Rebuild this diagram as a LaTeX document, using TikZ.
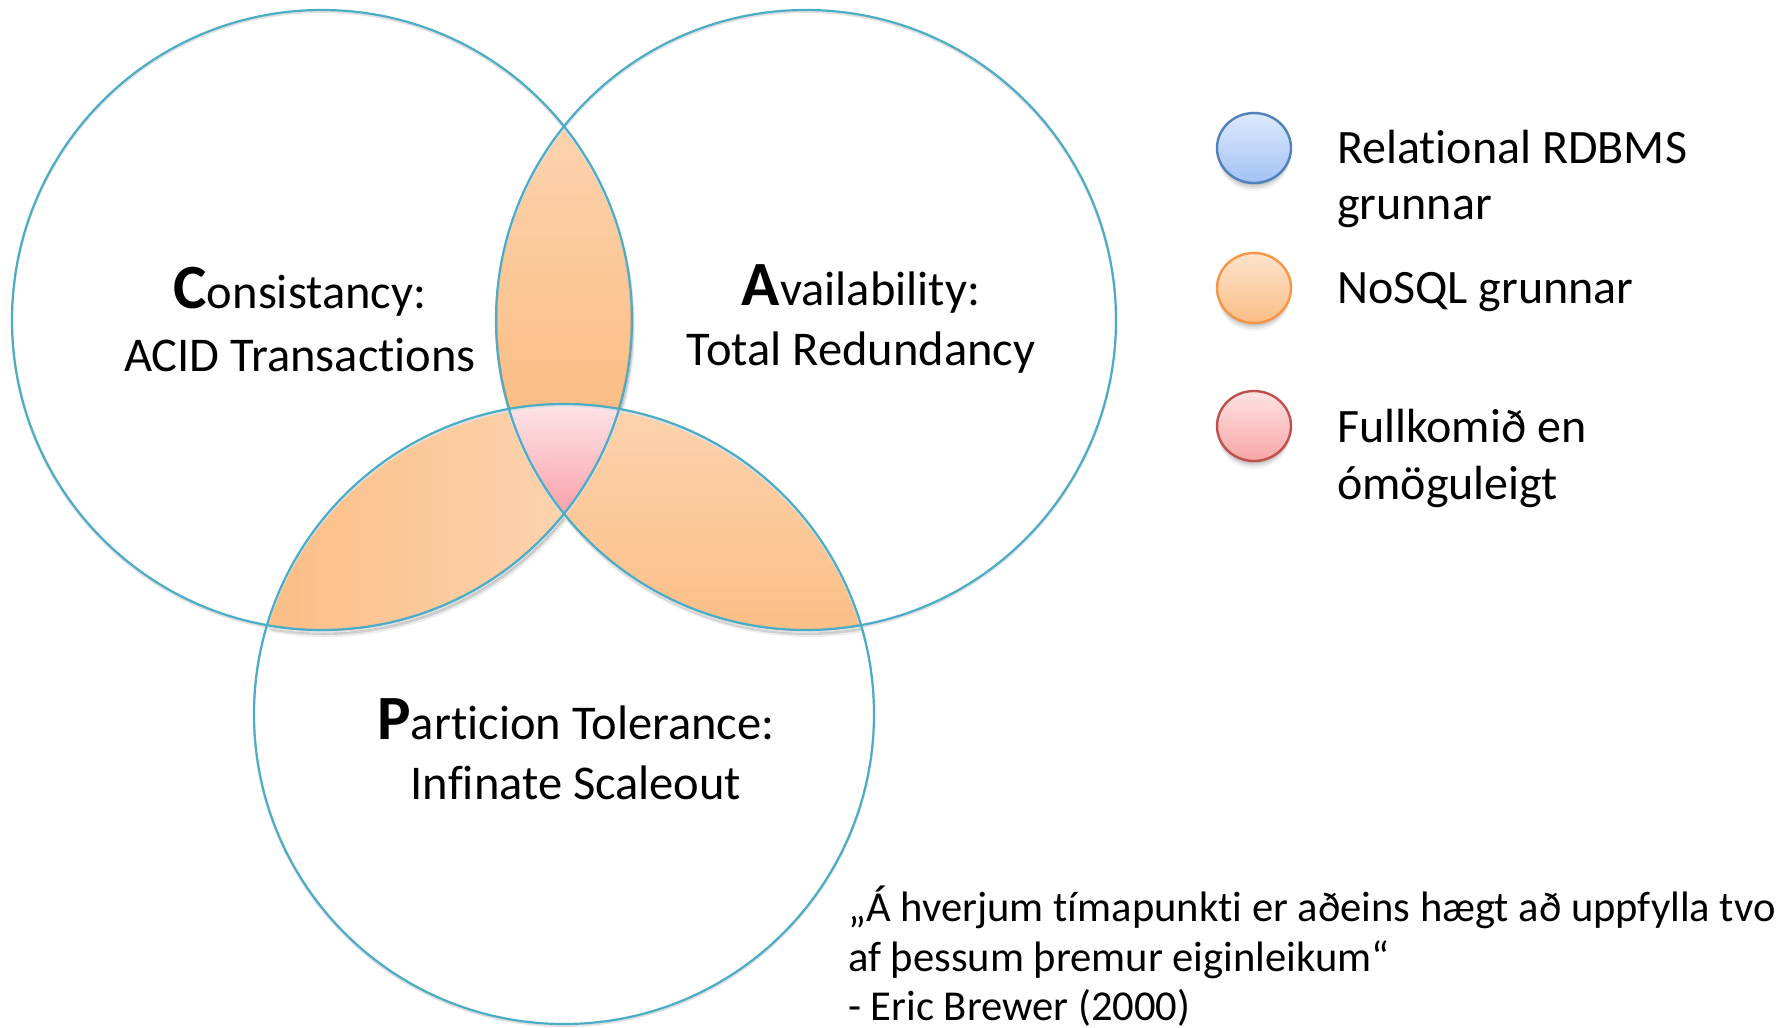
\documentclass[tikz,border=0pt]{standalone}
\usepackage{fontspec}
\setmainfont{Carlito}[Ligatures=NoCommon]
\definecolor{ringblue}{HTML}{4BACC6}
\definecolor{orTop}{HTML}{FDD3AE}
\definecolor{orBot}{HTML}{FBBD84}
\definecolor{orLine}{HTML}{F79646}
\definecolor{pkTop}{HTML}{FDE4E8}
\definecolor{pkBot}{HTML}{F9A1A9}
\definecolor{blTop}{HTML}{DDE9FD}
\definecolor{blBot}{HTML}{A3C2F4}
\definecolor{blLine}{HTML}{4F81BD}
\definecolor{lgOrTop}{HTML}{FDE4CC}
\definecolor{lgOrBot}{HTML}{FBBD86}
\definecolor{rdTop}{HTML}{FDE3E3}
\definecolor{rdBot}{HTML}{F9A5A5}
\definecolor{rdLine}{HTML}{C0504D}
% the three property circles
\newcommand\circC{(322,320) circle[radius=310pt]}
\newcommand\circA{(806,320) circle[radius=310pt]}
\newcommand\circP{(564,714) circle[radius=310pt]}
\newcommand\initcap[1]{{\fontsize{63}{63}\selectfont\bfseries #1}}
\tikzset{
  ring/.style={draw=ringblue, line width=2.2pt},
  lbl/.style={font=\fontsize{48.5}{56}\selectfont, anchor=base, inner sep=0pt},
  leg/.style={font=\fontsize{48}{56}\selectfont, anchor=base west, inner sep=0pt},
  quotetext/.style={font=\fontsize{42.6}{50}\selectfont, anchor=base west, inner sep=0pt},
  legdot/.style={line width=2.4pt},
}
\begin{document}
\begin{tikzpicture}[x=1pt,y=-1pt]
\useasboundingbox (0,0) rectangle (1789,1028);
\fill[white] (0,0) rectangle (1789,1028);

% soft shadow under the overlap regions
\foreach \dx/\dy/\op in {1/3/0.18, 2/5/0.12, 3/7/0.07}{
  \begin{scope}[transparency group, opacity=\op, shift={(\dx,\dy)}]
    \begin{scope}\clip \circC; \fill[black] \circA; \end{scope}
    \begin{scope}\clip \circC; \fill[black] \circP; \end{scope}
    \begin{scope}\clip \circA; \fill[black] \circP; \end{scope}
  \end{scope}
}

% C and A overlap
\begin{scope}
  \clip \circC; \clip \circA;
  \shade[top color=orTop, bottom color=orBot] (430,120) rectangle (700,420);
  \draw[orLine, line width=3pt] \circC;
  \draw[orLine, line width=3pt] \circA;
  \draw[orLine, line width=1.6pt] \circP;
\end{scope}
% C and P overlap
\begin{scope}
  \clip \circC; \clip \circP;
  \shade[left color=orBot, right color=orTop] (250,400) rectangle (570,650);
\end{scope}
% A and P overlap
\begin{scope}
  \clip \circA; \clip \circP;
  \shade[top color=orTop, bottom color=orBot] (490,400) rectangle (880,650);
\end{scope}
% all three
\begin{scope}
  \clip \circC; \clip \circA; \clip \circP;
  \shade[top color=pkTop, bottom color=pkBot] (480,404) rectangle (650,514);
\end{scope}

% circle outlines
\foreach \c in {\circC,\circA,\circP}{
  \draw[black!12, line width=2pt, shift={(0,2)}] \c;
}
\draw[ring] \circC;
\draw[ring] \circA;
\draw[ring] \circP;

% labels
\node[lbl] (c1) at (300,308) {\initcap{C}onsistancy:};
\node[lbl] (c2) at (300,371) {ACID Transactions};
\node[lbl] (a1) at (861,305) {\initcap{A}vailability:};
\node[lbl] (a2) at (861,365) {Total Redundancy};
\node[lbl] (p1) at (576,739) {\initcap{P}articion Tolerance:};
\node[lbl] (p2) at (576,799) {Infinate Scaleout};

% legend markers with soft shadows
\foreach \y in {148,288,426}{
  \foreach \d/\op in {3/0.10, 5/0.08, 7/0.06, 9/0.04}{
    \fill[black, opacity=\op] (1254,\y+\d) ellipse[x radius=36pt, y radius=34pt];
  }
}
\shade[top color=blTop, bottom color=blBot] (1254,148) ellipse[x radius=37pt, y radius=35pt];
\draw[blLine, legdot] (1254,148) ellipse[x radius=37pt, y radius=35pt];
\shade[top color=lgOrTop, bottom color=lgOrBot] (1254,288) ellipse[x radius=37pt, y radius=35pt];
\draw[orLine, legdot] (1254,288) ellipse[x radius=37pt, y radius=35pt];
\shade[top color=rdTop, bottom color=rdBot] (1254,426) ellipse[x radius=37pt, y radius=35pt];
\draw[rdLine, legdot] (1254,426) ellipse[x radius=37pt, y radius=35pt];

\node[leg] (l1a) at (1337,163) {Relational RDBMS};
\node[leg] (l1b) at (1337,219) {grunnar};
\node[leg] (l2)  at (1337,303) {NoSQL grunnar};
\node[leg] (l3a) at (1337,442) {Fullkomið en};
\node[leg] (l3b) at (1337,499) {ómöguleigt};

% quotation
\node[quotetext] (q1) at (848,921) {„Á hverjum tímapunkti er aðeins hægt að uppfylla tvo};
\node[quotetext] (q2) at (848,971) {af þessum þremur eiginleikum“};
\node[quotetext] (q3) at (848,1020) {- Eric Brewer (2000)};
\end{tikzpicture}
\end{document}
